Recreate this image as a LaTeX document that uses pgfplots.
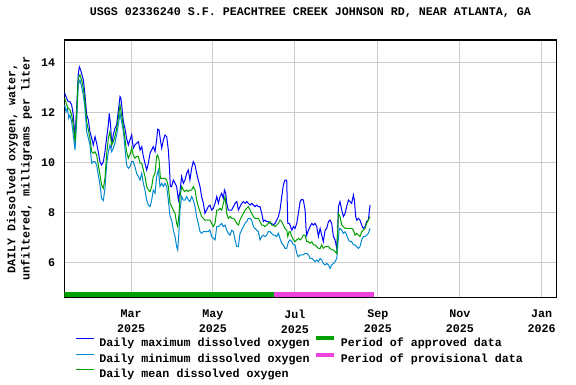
\documentclass[border=0pt]{standalone}
\usepackage{fontspec}
\setmainfont{Liberation Mono}
\usepackage{pgfplots}
\pgfplotsset{compat=1.18}
\usepackage{pgfplotstable}
\definecolor{cmax}{HTML}{0000FF}
\definecolor{cmin}{HTML}{0088D0}
\definecolor{cmean}{HTML}{00A000}
\definecolor{capp}{HTML}{00A000}
\definecolor{cprov}{HTML}{EE44DD}
\newcommand\tf{\fontsize{11.67pt}{14.4pt}\selectfont\bfseries}
\newcommand\tfx{\fontsize{11.67pt}{15pt}\selectfont\bfseries}

\pgfplotstableread{
day val
9.6 12.76
11.1 12.56
12.3 12.43
13.5 12.43
14.8 12.3
16.0 11.9
17.3 10.97
18.5 12.16
19.7 13.5
20.5 13.82
21.5 13.69
22.5 13.5
23.5 13.3
24.7 12.7
26.0 11.9
27.2 11.7
28.4 11.23
29.7 10.97
30.9 10.7
32.2 11.03
33.4 10.77
34.6 10.43
35.9 10.03
37.1 9.9
38.4 10.03
39.6 10.43
40.8 10.97
42.1 11.5
42.8 11.96
43.8 11.5
44.6 10.7
45.8 11.1
47.0 11.36
48.3 11.5
49.5 12.03
50.8 12.63
51.5 12.56
52.3 12.16
53.3 11.63
54.5 11.36
55.7 10.97
57.0 10.7
58.2 10.9
59.5 11.1
60.7 10.57
61.9 10.7
63.2 10.77
64.5 10.83
65.7 10.5
67.0 10.63
68.2 10.24
69.4 9.97
70.7 9.7
71.9 9.97
73.2 10.37
74.4 10.5
75.6 10.63
76.9 10.44
78.1 10.9
78.9 11.33
79.9 11.3
80.9 10.9
81.9 10.57
83.1 10.9
84.3 11.1
85.6 11.03
86.8 10.5
87.6 9.84
88.3 9.04
89.3 9.04
90.5 9.3
91.8 9.17
93.0 9.04
94.3 8.5
95.5 8.84
96.7 9.44
98.0 9.17
99.2 9.3
100.5 9.57
101.7 9.7
102.9 9.3
104.2 9.77
105.4 10.04
106.7 9.9
107.9 9.57
109.1 9.3
110.4 9.04
111.6 8.64
112.9 8.37
114.1 7.97
115.3 8.1
116.6 8.24
117.8 8.3
119.1 8.1
120.3 8.17
121.6 8.37
122.9 8.64
124.1 8.37
125.3 8.64
126.6 8.77
127.8 8.57
128.6 8.9
129.6 8.77
130.3 8.37
131.5 8.1
132.8 8.1
134.0 8.1
135.3 8.24
136.5 8.37
137.8 8.44
139.0 8.1
140.2 8.24
141.5 8.37
142.7 8.44
144.0 8.37
145.2 8.44
146.4 8.37
147.7 8.3
148.9 8.37
150.2 8.3
151.4 8.24
152.6 8.3
153.9 8.24
155.1 8.24
156.4 7.97
157.6 7.64
158.8 7.7
160.1 7.64
161.3 7.64
162.6 7.57
163.8 7.57
165.0 7.5
166.3 7.57
167.5 7.7
168.8 7.84
170.0 8.1
171.3 8.64
172.5 9.1
173.7 9.3
175.0 9.3
175.8 7.57
176.8 7.57
177.5 7.5
178.8 7.3
180.0 7.44
181.2 7.37
182.5 7.57
183.7 7.97
185.0 8.44
186.2 8.53
187.4 8.5
188.7 8.1
189.4 7.37
189.9 7.1
191.2 7.3
192.4 7.44
193.7 7.57
194.9 7.5
196.1 7.57
197.4 7.44
198.6 7.04
199.9 7.37
201.1 7.1
202.3 6.84
203.6 7.3
204.8 7.37
206.1 7.64
207.3 7.7
208.5 7.57
209.8 7.04
211.0 6.91
212.3 6.57
213.0 7.3
213.5 8.24
214.7 8.44
216.0 8.1
217.2 7.84
218.5 7.97
219.7 8.24
221.0 8.5
222.2 8.44
223.4 8.37
224.7 8.7
225.4 8.5
226.4 7.84
227.2 7.7
228.4 7.77
229.6 7.7
230.9 7.5
232.1 7.37
233.4 7.44
234.6 7.64
235.8 7.7
237.1 8.3
}\tmax

\pgfplotstableread{
day val
9.6 12.3
10.6 12.03
11.6 12.16
12.6 11.76
13.5 11.9
14.8 11.63
16.0 11.1
17.3 10.5
18.5 11.63
19.7 13.1
21.0 13.3
22.2 13.03
23.5 12.7
24.7 12.16
26.0 11.23
27.2 10.97
28.4 10.7
29.7 9.97
30.9 10.03
32.2 10.03
33.4 9.9
34.6 9.5
35.9 9.1
37.1 8.57
38.4 8.48
39.6 8.97
40.8 9.9
42.1 10.43
43.3 10.7
44.6 10.43
45.8 10.57
47.0 10.77
48.3 11.1
49.5 11.5
50.8 11.96
52.0 11.63
53.3 11.23
54.5 10.57
55.7 9.9
57.0 9.77
58.2 9.83
59.5 10.03
60.7 10.03
61.9 9.83
63.2 9.57
64.5 9.44
65.7 9.3
67.0 9.57
68.2 9.17
69.4 8.9
70.7 8.5
71.9 8.3
73.2 8.24
74.4 8.5
75.6 8.9
76.9 8.77
78.1 9.44
79.4 9.7
80.6 9.04
81.9 9.17
83.1 9.04
84.3 9.17
85.6 9.04
86.8 8.5
88.1 7.84
89.3 7.7
90.5 7.31
91.8 7.04
93.0 6.64
93.8 6.51
94.8 7.31
95.5 8.1
96.7 8.64
98.0 8.5
99.2 8.5
100.5 8.64
101.7 8.5
102.9 8.44
104.2 8.64
105.4 8.5
106.7 8.24
107.9 7.84
109.1 7.57
110.4 7.24
111.6 7.17
112.9 7.24
114.1 7.24
115.3 7.24
116.6 7.24
117.8 7.31
119.1 7.04
120.3 6.98
121.6 6.91
122.9 7.44
124.1 7.44
125.3 7.5
126.6 7.57
127.8 7.44
129.1 7.5
130.3 7.3
131.5 7.17
132.8 7.1
134.0 7.3
135.3 7.24
136.5 6.91
137.8 6.64
139.0 6.64
140.2 7.17
141.5 7.3
142.7 7.44
144.0 7.57
145.2 7.64
146.4 7.77
147.7 7.77
148.9 7.7
150.2 7.44
151.4 7.37
152.6 7.3
153.9 7.24
155.1 6.91
156.4 7.04
157.6 7.1
158.8 7.04
160.1 7.1
161.3 7.24
162.6 7.24
163.8 7.17
165.0 7.1
166.3 7.1
167.5 7.04
168.8 7.17
170.0 6.97
171.3 6.77
172.5 6.71
173.7 6.57
175.0 6.57
176.3 6.84
177.5 6.91
178.8 6.84
180.0 6.71
181.2 6.71
182.5 6.37
183.7 6.24
185.0 6.31
186.2 6.31
187.4 6.31
188.7 6.37
189.9 6.37
191.2 6.31
192.4 6.17
193.7 6.17
194.9 6.11
196.1 6.04
197.4 6.11
198.6 6.04
199.9 6.17
201.1 6.11
202.3 5.97
203.6 5.91
204.8 5.97
206.1 5.91
207.3 5.77
208.5 5.91
209.8 5.97
211.0 6.04
212.3 6.17
213.0 6.64
214.0 7.3
214.7 7.37
216.0 7.3
217.2 7.17
218.5 7.24
219.7 7.1
221.0 6.91
222.2 6.84
223.4 6.84
224.7 6.71
225.9 6.71
227.2 6.64
228.4 6.57
229.6 6.64
230.9 6.91
232.1 7.04
233.4 7.04
234.6 7.1
235.8 7.17
237.1 7.37
}\tmin

\pgfplotstableread{
day val
9.6 12.56
11.1 12.3
12.3 12.16
13.5 12.1
14.8 11.9
16.0 11.5
17.3 10.83
18.5 11.9
19.7 13.36
21.0 13.5
22.2 13.3
23.5 12.96
24.7 12.43
26.0 11.63
27.2 11.3
28.4 10.97
29.7 10.43
30.9 10.37
32.2 10.43
33.4 10.3
34.6 9.9
35.9 9.5
37.1 9.1
38.4 8.97
39.6 9.37
40.8 10.3
42.1 10.97
43.3 11.23
44.6 10.7
45.8 10.83
47.0 11.03
48.3 11.36
49.5 11.76
50.8 12.3
52.0 11.9
53.3 11.43
54.5 10.97
55.7 10.43
57.0 10.17
58.2 10.3
59.5 10.57
60.7 10.3
61.9 10.17
63.2 10.24
64.5 10.24
65.7 9.97
67.0 9.97
68.2 9.7
69.4 9.44
70.7 9.04
71.9 8.9
73.2 8.84
74.4 9.04
75.6 9.44
76.9 9.57
78.1 10.24
78.9 10.3
79.9 10.1
80.9 9.37
81.9 9.37
83.1 9.37
84.3 9.37
85.6 9.3
86.8 9.04
88.1 8.37
89.3 8.24
90.5 8.1
91.8 7.97
93.0 7.57
93.8 7.44
94.8 7.97
95.5 8.64
96.7 9.04
98.0 8.9
99.2 8.84
100.5 8.9
101.7 8.84
102.9 8.9
104.2 8.9
105.4 9.04
106.7 8.9
107.9 8.5
109.1 8.24
110.4 8.04
111.6 7.84
112.9 7.77
114.1 7.7
115.3 7.7
116.6 7.7
117.8 7.7
119.1 7.57
120.3 7.44
121.6 7.57
122.9 8.1
124.1 8.1
125.3 8.17
126.6 8.1
127.8 8.37
129.1 8.64
130.3 7.97
131.5 7.77
132.8 7.84
134.0 7.77
135.3 7.77
136.5 7.7
137.8 7.57
139.0 7.5
140.2 7.7
141.5 7.84
142.7 7.97
144.0 8.1
145.2 8.17
146.4 8.24
147.7 8.1
148.9 7.97
150.2 7.84
151.4 7.77
152.6 7.77
153.9 7.77
155.1 7.64
156.4 7.5
157.6 7.5
158.8 7.44
160.1 7.5
161.3 7.57
162.6 7.64
163.8 7.5
165.0 7.5
166.3 7.44
167.5 7.5
168.8 7.57
170.0 7.7
171.3 7.64
172.5 7.5
173.7 7.37
175.0 7.3
175.8 7.04
176.8 7.24
177.5 7.24
178.8 7.04
180.0 6.91
181.2 6.84
182.5 6.91
183.7 6.97
185.0 6.91
186.2 6.97
187.4 7.1
188.7 7.1
189.9 6.84
191.2 6.84
192.4 6.77
193.7 6.84
194.9 6.71
196.1 6.71
197.4 6.64
198.6 6.57
199.9 6.57
201.1 6.71
202.3 6.57
203.6 6.64
204.8 6.64
206.1 6.64
207.3 6.57
208.5 6.51
209.8 6.51
211.0 6.44
212.3 6.37
213.0 7.3
213.5 7.97
214.7 7.84
216.0 7.5
217.2 7.44
218.5 7.37
219.7 7.37
221.0 7.37
222.2 7.37
223.4 7.37
224.7 7.3
225.9 7.1
227.2 7.17
228.4 7.1
229.6 7.04
230.9 7.24
232.1 7.3
233.4 7.37
234.6 7.57
235.8 7.7
237.1 7.84
}\tmean

\begin{document}
\begin{tikzpicture}
\path[use as bounding box] (0pt,0pt) rectangle (576pt,384pt);
\begin{axis}[
  at={(64.3pt,86.5pt)}, anchor=south west,
  width=492.2pt, height=257.5pt, scale only axis,
  xmin=9.3, xmax=376,
  ymin=4.61, ymax=14.89,
  xtick={59,120,181,243,304,365},
  xticklabels={{Mar\\2025},{May\\2025},{Jul\\2025},{Sep\\2025},{Nov\\2025},{Jan\\2026}},
  ytick={6,8,10,12,14},
  yticklabels={6,8,10,12,14},
  /pgf/number format/assume math mode=true,
  major tick length=0pt,
  grid=major,
  major grid style={draw=black!20, line width=1pt},
  axis line style={black, line width=1.2pt},
  xticklabel style={font=\tfx, align=center, anchor=north, inner sep=0pt, yshift=-12pt},
  yticklabel style={font=\tf, anchor=east, inner sep=0pt, xshift=-9pt},
  title={USGS 02336240 S.F. PEACHTREE CREEK JOHNSON RD, NEAR ATLANTA, GA},
  title style={font=\tf, at={(axis description cs:0.5,1.0817)}, anchor=center, inner sep=0pt},
  ylabel={DAILY Dissolved oxygen, water,\\unfiltered, milligrams per liter},
  ylabel style={font=\tf, align=center, at={(axis description cs:-0.091,0.5)}, anchor=center, rotate=0},
  legend columns=2,
  legend style={at={(axis description cs:0.0217,-0.150)}, anchor=north west, draw=none, fill=none,
    inner sep=0pt, outer sep=0pt, font=\tf, row sep=6pt, column sep=5.3pt,
    nodes={inner sep=0pt, text height=8.5pt, text depth=0.5pt},
    cells={anchor=west},
    /tikz/every even column/.append style={column sep=4pt}},
  legend image code/.code={\draw[#1] (0pt,4pt) -- (18pt,4pt);},
]
\addlegendimage{cmax, line width=1.2pt}
\addlegendentry{Daily maximum dissolved oxygen}
\addlegendimage{capp, line width=4pt}
\addlegendentry{Period of approved data}
\addlegendimage{cmin, line width=1.2pt}
\addlegendentry{Daily minimum dissolved oxygen}
\addlegendimage{cprov, line width=4pt}
\addlegendentry{Period of provisional data}
\addlegendimage{cmean, line width=1.2pt}
\addlegendentry{Daily mean dissolved oxygen}

\addplot[cmax, line width=1pt, forget plot] table[x=day, y=val] {\tmax};
\addplot[cmin, line width=1pt, forget plot] table[x=day, y=val] {\tmin};
\addplot[cmean, line width=1pt, forget plot] table[x=day, y=val] {\tmean};
\addplot[capp, line width=4.4pt, forget plot] coordinates {(8.5,4.735) (165.6,4.735)};
\addplot[cprov, line width=4.4pt, forget plot] coordinates {(165.6,4.735) (240,4.735)};
\end{axis}
\end{tikzpicture}
\end{document}
